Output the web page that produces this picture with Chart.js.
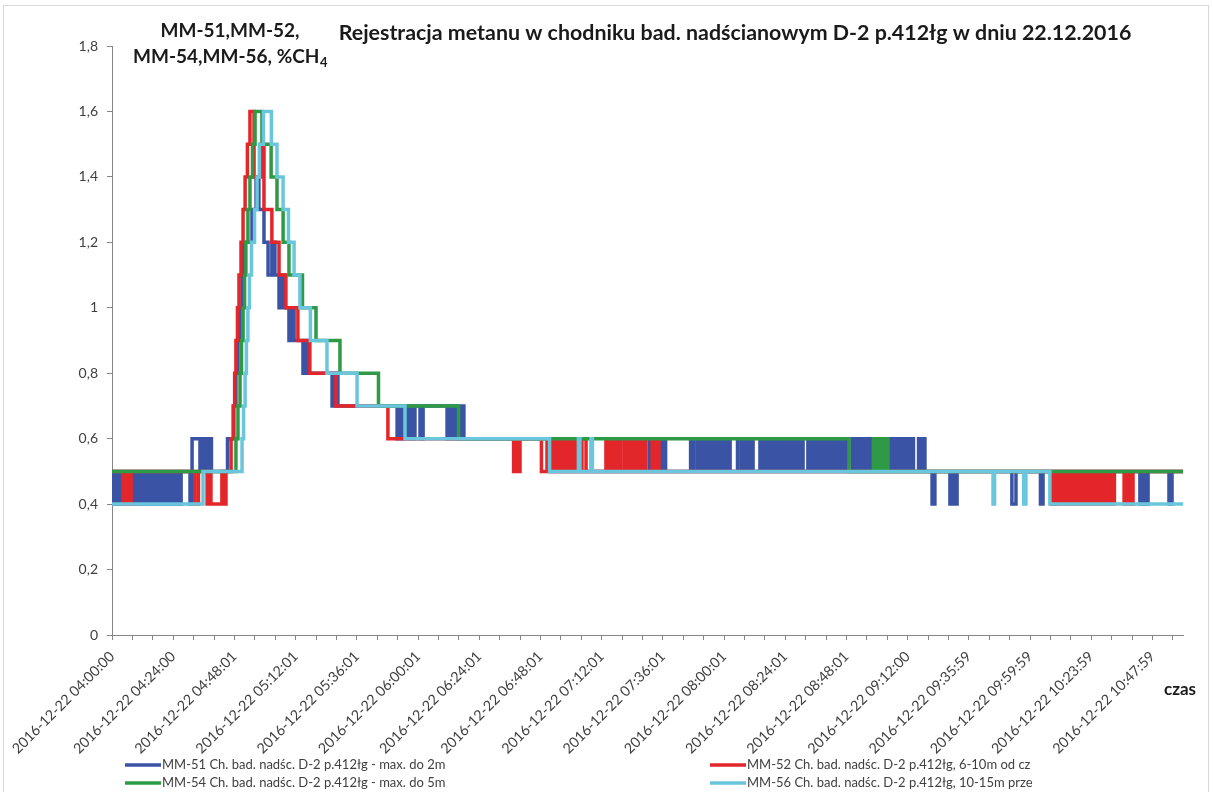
<!DOCTYPE html>
<html lang="pl">
<head>
<meta charset="utf-8">
<title>Rejestracja metanu D-2 p.412łg</title>
<script src="https://cdn.jsdelivr.net/npm/chart.js@4.4.1/dist/chart.umd.min.js"></script>
<style>
  body { margin: 0; background: #fff; }
  canvas { display: block; }
</style>
</head>
<body>
<canvas id="wykres" width="1213" height="792"></canvas>
<script>
// Czas w minutach od 2016-12-22 04:00:00, wartość w %CH4 (punkty zmiany wskazania)
const mm51 = [
  [0,0.5],[0.4,0.4],[1.6,0.5],[2.7,0.4],[3.9,0.5],[7.5,0.4],[8.6,0.5],[9.8,0.4],[11.0,0.5],[12.2,0.4],
  [13.3,0.5],[14.5,0.4],[15.7,0.5],[16.9,0.4],[18.0,0.5],[19.2,0.4],[20.4,0.5],[21.6,0.4],[22.7,0.5],[23.9,0.4],
  [24.9,0.5],[25.9,0.4],[27.1,0.5],[30.6,0.4],[31.4,0.6],[34.5,0.5],[35.7,0.6],[36.9,0.5],[38.0,0.6],[39.0,0.5],
  [45.3,0.6],[47.8,0.7],[48.6,0.8],[49.4,0.9],[50.2,1.0],[51.0,1.1],[51.6,1.2],[54.9,1.3],[56.5,1.4],[57.6,1.3],
  [59.6,1.2],[61.2,1.1],[62.7,1.2],[63.9,1.1],[65.5,1.0],[66.5,1.1],[67.5,1.0],[69.4,0.9],[70.4,1.0],[71.4,0.9],
  [74.9,0.8],[75.9,0.9],[76.9,0.8],[86.3,0.7],[87.5,0.8],[88.6,0.7],[111.8,0.6],[112.9,0.7],[114.1,0.6],[114.9,0.7],
  [116.1,0.6],[117.3,0.7],[118.0,0.6],[118.8,0.7],[120.8,0.6],[122.0,0.7],[131.4,0.6],[132.5,0.7],[133.7,0.6],[134.9,0.7],
  [135.9,0.6],[137.1,0.7],[138.0,0.6],[171.8,0.5],
  [210.6,0.6],[211.8,0.5],[214.5,0.6],[215.5,0.5],[216.3,0.6],[217.1,0.5],[226.9,0.6],[228.0,0.5],
  [229.4,0.6],[230.6,0.5],[231.8,0.6],[232.9,0.5],[234.1,0.6],[235.3,0.5],[236.5,0.6],[237.6,0.5],[238.8,0.6],[240.0,0.5],
  [241.2,0.6],[242.4,0.5],[245.3,0.6],[246.7,0.5],[247.8,0.6],[249.0,0.5],[250.2,0.6],[251.4,0.5],
  [254.1,0.6],[255.3,0.5],[256.5,0.6],[257.6,0.5],[258.8,0.6],[260.0,0.5],[261.2,0.6],[262.4,0.5],[263.5,0.6],[264.7,0.5],
  [265.9,0.6],[267.1,0.5],[268.2,0.6],[269.4,0.5],[270.4,0.6],[271.0,0.5],
  [272.9,0.6],[274.1,0.5],[275.3,0.6],[276.5,0.5],[277.6,0.6],[278.8,0.5],[280.0,0.6],[281.2,0.5],[282.4,0.6],[283.5,0.5],
  [284.7,0.6],[285.9,0.5],[287.1,0.6],[288.2,0.5],
  [290.2,0.6],[291.4,0.5],[292.5,0.6],[293.7,0.5],[294.9,0.6],[296.1,0.5],[297.3,0.6],[298.4,0.5],
  [304.3,0.6],[305.5,0.5],[306.7,0.6],[307.8,0.5],[309.0,0.6],[310.2,0.5],[311.4,0.6],[312.2,0.5],
  [313.1,0.6],[314.3,0.5],[316.3,0.6],[317.3,0.5],[318.0,0.6],[318.8,0.5],
  [321.6,0.4],[322.7,0.5],[328.6,0.4],[329.8,0.5],[330.6,0.4],[331.4,0.5],[352.9,0.4],[354.5,0.5],
  [364.1,0.4],[365.1,0.5],[369.0,0.4],[370.0,0.5],[403.1,0.4],[404.3,0.5],[405.5,0.4],[406.3,0.5],
  [414.5,0.4],[415.7,0.5],[420,0.5]
];
const mm52 = [
  [0,0.5],[4.3,0.4],[5.5,0.5],[6.7,0.4],[7.5,0.5],[32.5,0.4],[33.9,0.5],[37.3,0.4],[38.2,0.5],[38.8,0.4],
  [43.1,0.5],[43.9,0.4],[44.7,0.5],[46.7,0.6],[47.5,0.7],[48.1,0.8],[48.6,0.9],[49.2,1.0],[49.8,1.1],[50.6,1.2],
  [51.4,1.3],[52.2,1.4],[53.1,1.5],[54.1,1.6],[55.7,1.4],[58.4,1.5],[59.6,1.3],[62.7,1.2],[65.5,1.1],[68.2,1.0],
  [72.9,0.9],[77.6,0.8],[87.8,0.7],[108.2,0.6],
  [157.5,0.5],[158.4,0.6],[159.2,0.5],[160.0,0.6],[168.4,0.5],[170.6,0.6],
  [171.8,0.5],[172.9,0.6],[174.1,0.5],[175.3,0.6],[176.5,0.5],[177.5,0.6],[178.4,0.5],[179.6,0.6],[180.8,0.5],[182.0,0.6],
  [183.1,0.5],[184.3,0.6],[185.9,0.5],
  [193.7,0.6],[194.9,0.5],[196.1,0.6],[197.3,0.5],[198.4,0.6],[199.6,0.5],[201.0,0.6],[202.2,0.5],[203.3,0.6],[204.5,0.5],
  [205.7,0.6],[206.9,0.5],[208.0,0.6],[209.2,0.5],[211.8,0.6],[212.9,0.5],[213.9,0.6],[214.5,0.5],
  [368.4,0.4],[369.6,0.5],[370.8,0.4],[372.0,0.5],[373.1,0.4],[374.3,0.5],[375.5,0.4],[376.7,0.5],[377.8,0.4],[379.0,0.5],
  [380.2,0.4],[381.4,0.5],[382.5,0.4],[383.7,0.5],[384.9,0.4],[386.1,0.5],[387.3,0.4],[388.4,0.5],[389.6,0.4],[390.8,0.5],
  [392.0,0.4],[393.1,0.5],[396.9,0.4],[398.0,0.5],[399.2,0.4],[400.4,0.5],[420,0.5]
];
const mm54 = [
  [0,0.5],[48.6,0.6],[49.4,0.7],[50.2,0.8],[50.8,0.9],[51.4,1.0],[52.0,1.1],[52.5,1.2],[53.3,1.3],[54.1,1.4],
  [55.1,1.5],[56.1,1.6],[58.8,1.5],[62.4,1.4],[64.7,1.3],[67.1,1.2],[69.4,1.1],[74.7,1.0],[80.0,0.9],[89.4,0.8],
  [104.5,0.7],[135.9,0.6],[289.0,0.5],[298.6,0.6],[299.8,0.5],[300.9,0.6],[302.1,0.5],[303.3,0.6],[304.3,0.5],[420,0.5]
];
const mm56 = [
  [0,0.4],[35.7,0.5],[51.0,0.6],[51.6,0.7],[52.2,0.8],[52.7,0.9],[53.3,1.0],[53.9,1.1],[54.7,1.2],[55.9,1.3],
  [56.9,1.4],[57.8,1.5],[59.4,1.6],[62.5,1.5],[64.7,1.4],[67.1,1.3],[69.2,1.2],[71.4,1.1],[73.7,1.0],[77.8,0.9],
  [84.3,0.8],[96.1,0.7],[114.9,0.6],[171.6,0.5],[182.9,0.6],[183.5,0.5],[187.8,0.6],[188.4,0.5],
  [345.5,0.4],[346.1,0.5],[357.5,0.4],[358.4,0.5],[367.8,0.4],[420,0.4]
];

const nazwySerii = [
  'MM-51 Ch. bad. nadśc. D-2 p.412łg - max. do 2m',
  'MM-52 Ch. bad. nadśc. D-2 p.412łg, 6-10m od cz',
  'MM-54 Ch. bad. nadśc. D-2 p.412łg - max. do 5m',
  'MM-56 Ch. bad. nadśc. D-2 p.412łg, 10-15m prze'
];
const kolory = ['#3a53a4', '#e3262a', '#2f9a45', '#6ac6dc'];

const etykietyCzasu = [
  '2016-12-22 04:00:00', '2016-12-22 04:24:00', '2016-12-22 04:48:01', '2016-12-22 05:12:01',
  '2016-12-22 05:36:01', '2016-12-22 06:00:01', '2016-12-22 06:24:01', '2016-12-22 06:48:01',
  '2016-12-22 07:12:01', '2016-12-22 07:36:01', '2016-12-22 08:00:01', '2016-12-22 08:24:01',
  '2016-12-22 08:48:01', '2016-12-22 09:12:00', '2016-12-22 09:35:59', '2016-12-22 09:59:59',
  '2016-12-22 10:23:59', '2016-12-22 10:47:59'
];

const tytul = 'Rejestracja metanu w chodniku bad. nadścianowym D-2 p.412łg w dniu 22.12.2016';
const FONT = 'Lato';

// napisy, opis osi i legenda rysowane na płótnie
const dekoracje = {
  id: 'dekoracje',
  afterDraw(chart) {
    const ctx = chart.ctx;
    ctx.save();
    ctx.strokeStyle = '#d9d9d9';
    ctx.lineWidth = 1;
    ctx.strokeRect(3.5, 5.5, 1205, 800);

    ctx.fillStyle = '#1a1a1a';
    ctx.textBaseline = 'middle';
    ctx.textAlign = 'center';
    ctx.font = 'bold 21.4px ' + FONT;
    ctx.fillText(tytul, 735, 33);

    // opis osi Y z indeksem dolnym
    ctx.font = 'bold 19px ' + FONT;
    ctx.fillText('MM-51,MM-52,', 230, 31);
    const czesc = 'MM-54,MM-56, %CH';
    const w1 = ctx.measureText(czesc).width;
    ctx.font = 'bold 13px ' + FONT;
    const w2 = ctx.measureText('4').width;
    const x0 = 230 - (w1 + w2) / 2;
    ctx.textAlign = 'left';
    ctx.font = 'bold 19px ' + FONT;
    ctx.fillText(czesc, x0, 57);
    ctx.font = 'bold 13px ' + FONT;
    ctx.fillText('4', x0 + w1 + 0.5, 63);

    ctx.textAlign = 'center';
    ctx.font = 'bold 17px ' + FONT;
    ctx.fillText('czas', 1180, 690);

    // legenda w dwóch kolumnach
    const poz = [[125, 765], [710, 765], [125, 783], [710, 783]];
    chart.data.datasets.forEach((ds, i) => {
      const [x, y] = poz[i];
      ctx.strokeStyle = ds.borderColor;
      ctx.lineWidth = 3.5;
      ctx.beginPath();
      ctx.moveTo(x, y);
      ctx.lineTo(x + 36, y);
      ctx.stroke();
      ctx.fillStyle = '#404040';
      ctx.font = '13px ' + FONT;
      ctx.textAlign = 'left';
      ctx.fillText(ds.label, x + 37, y);
    });
    ctx.restore();
  }
};

const serie = [mm51, mm52, mm54, mm56];
const kolejnosc = [4, 3, 2, 1];

const ctx = document.getElementById('wykres').getContext('2d');
new Chart(ctx, {
  type: 'line',
  data: {
    datasets: serie.map((s, i) => ({
      label: nazwySerii[i],
      data: s.map(p => ({ x: p[0], y: p[1] })),
      borderColor: kolory[i],
      borderWidth: 3.5,
      stepped: true,
      pointRadius: 0,
      fill: false,
      borderJoinStyle: 'miter',
      order: kolejnosc[i]
    }))
  },
  options: {
    responsive: false,
    animation: false,
    devicePixelRatio: 1,
    layout: { padding: { left: 0, top: 46, right: 30, bottom: 0 } },
    plugins: {
      legend: { display: false },
      tooltip: { enabled: false }
    },
    scales: {
      x: {
        type: 'linear',
        min: 0,
        max: 420,
        afterBuildTicks(scale) {
          const t = [];
          for (let v = 0; v <= 416; v += 8) t.push({ value: v });
          scale.ticks = t;
        },
        afterFit(scale) {
          scale.height = 157;
          scale.paddingLeft = 0;
          scale.paddingRight = 0;
        },
        grid: { drawOnChartArea: false, drawTicks: true, tickLength: 5, color: '#868686' },
        border: { color: '#868686', width: 1 },
        ticks: {
          autoSkip: false,
          maxRotation: 45,
          minRotation: 45,
          padding: 8,
          color: '#404040',
          font: { family: FONT, size: 14.3 },
          callback: (v) => (v % 24 === 0 ? etykietyCzasu[v / 24] : '')
        }
      },
      y: {
        min: 0,
        max: 1.8,
        afterFit(scale) {
          scale.width = 112;
          scale.paddingTop = 0;
          scale.paddingBottom = 0;
        },
        grid: { drawOnChartArea: false, drawTicks: true, tickLength: 5, color: '#868686' },
        border: { color: '#868686', width: 1 },
        ticks: {
          stepSize: 0.2,
          padding: 9,
          color: '#404040',
          font: { family: FONT, size: 14 },
          callback: (v) => String(Number(v.toFixed(1))).replace('.', ',')
        }
      }
    }
  },
  plugins: [dekoracje]
});
</script>
</body>
</html>
